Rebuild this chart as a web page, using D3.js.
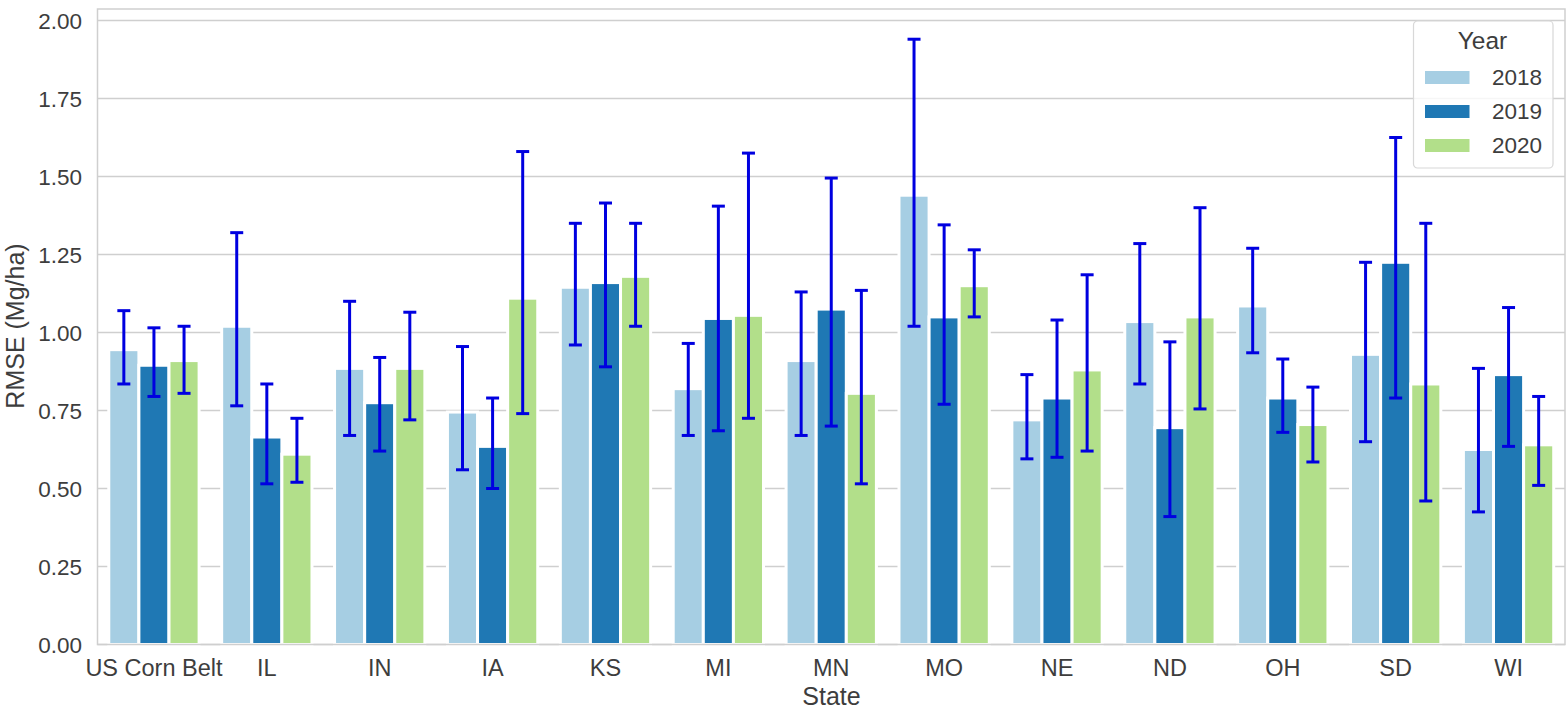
<!DOCTYPE html>
<html>
<head>
<meta charset="utf-8">
<script src="https://cdn.jsdelivr.net/npm/d3@7"></script>
<style>
html, body { margin: 0; padding: 0; background: #fff; }
svg { display: block; }
text { font-family: "Liberation Sans", Arial, sans-serif; fill: #3d3d3d; }
</style>
</head>
<body>
<script>
var states = ["US Corn Belt", "IL", "IN", "IA", "KS", "MI", "MN", "MO", "NE", "ND", "OH", "SD", "WI"];
var years = ["2018", "2019", "2020"];
var colors = ["#a6cee3", "#1f78b4", "#b2df8a"];
var yTicks = [0, 0.25, 0.5, 0.75, 1, 1.25, 1.5, 1.75, 2];

var rmse2018 = [0.945, 1.02, 0.885, 0.745, 1.145, 0.82, 0.91, 1.44, 0.72, 1.035, 1.085, 0.93, 0.625];
var rmse2019 = [0.895, 0.665, 0.775, 0.635, 1.16, 1.045, 1.075, 1.05, 0.79, 0.695, 0.79, 1.225, 0.865];
var rmse2020 = [0.91, 0.61, 0.885, 1.11, 1.18, 1.055, 0.805, 1.15, 0.88, 1.05, 0.705, 0.835, 0.64];

var low2018 = [0.835, 0.765, 0.67, 0.56, 0.96, 0.67, 0.67, 1.02, 0.595, 0.835, 0.935, 0.65, 0.425];
var high2018 = [1.07, 1.32, 1.10, 0.955, 1.35, 0.965, 1.13, 1.94, 0.865, 1.285, 1.27, 1.225, 0.885];
var low2019 = [0.795, 0.515, 0.62, 0.50, 0.89, 0.685, 0.70, 0.77, 0.60, 0.41, 0.68, 0.79, 0.635];
var high2019 = [1.015, 0.835, 0.92, 0.79, 1.415, 1.405, 1.495, 1.345, 1.04, 0.97, 0.915, 1.625, 1.08];
var low2020 = [0.805, 0.52, 0.72, 0.74, 1.02, 0.725, 0.515, 1.05, 0.62, 0.755, 0.585, 0.46, 0.51];
var high2020 = [1.02, 0.725, 1.065, 1.58, 1.35, 1.575, 1.135, 1.265, 1.185, 1.40, 0.825, 1.35, 0.795];

var series = [
    { year: "2018", values: rmse2018, low: low2018, high: high2018 },
    { year: "2019", values: rmse2019, low: low2019, high: high2019 },
    { year: "2020", values: rmse2020, low: low2020, high: high2020 }
];

var width = 1568,
    height = 714,
    left = 97.5,
    right = 1565,
    top_ = 9,
    bottom = 644.5;

var x = d3.scaleBand()
    .domain(states)
    .range([left, right])
    .paddingInner(0)
    .paddingOuter(0);

// seaborn keeps 80% of the band for the group
var groupW = x.bandwidth() * 0.8;
var x1 = d3.scaleBand()
    .domain(years)
    .range([0, groupW]);

var y = d3.scaleLinear()
    .domain([0, 2])
    .range([bottom, 20.5]);

var color = d3.scaleOrdinal().domain(years).range(colors);

var svg = d3.select("body").append("svg")
    .attr("width", width)
    .attr("height", height);

// grid lines
svg.append("g")
    .selectAll("line")
    .data(yTicks)
    .enter().append("line")
    .attr("x1", left)
    .attr("x2", right)
    .attr("y1", function (d) { return y(d); })
    .attr("y2", function (d) { return y(d); })
    .attr("stroke", "#cfcfcf")
    .attr("stroke-width", 1.5);

// bars
var groups = svg.selectAll(".series")
    .data(series)
    .enter().append("g")
    .attr("class", "series");

groups.selectAll("rect")
    .data(function (s) {
        return s.values.map(function (v, i) { return { year: s.year, state: states[i], value: v }; });
    })
    .enter().append("rect")
    .attr("x", function (d) { return x(d.state) + x.bandwidth() * 0.1 + x1(d.year); })
    .attr("y", function (d) { return y(d.value); })
    .attr("width", x1.bandwidth())
    .attr("height", function (d) { return y(0) - y(d.value); })
    .attr("fill", function (d) { return color(d.year); })
    .attr("stroke", "#fff")
    .attr("stroke-width", 3);

// error bars
var errs = groups.selectAll(".err")
    .data(function (s) {
        return s.values.map(function (v, i) {
            return { year: s.year, state: states[i], low: s.low[i], high: s.high[i] };
        });
    })
    .enter().append("g")
    .attr("class", "err")
    .attr("transform", function (d) {
        return "translate(" + (x(d.state) + x.bandwidth() * 0.1 + x1(d.year) + x1.bandwidth() / 2) + ",0)";
    })
    .attr("stroke", "#0000e0")
    .attr("fill", "none");

errs.append("line")
    .attr("y1", function (d) { return y(d.low); })
    .attr("y2", function (d) { return y(d.high); })
    .attr("stroke-width", 3);

errs.selectAll(".cap")
    .data(function (d) { return [d.low, d.high]; })
    .enter().append("line")
    .attr("class", "cap")
    .attr("x1", -6.5)
    .attr("x2", 6.5)
    .attr("y1", function (d) { return y(d); })
    .attr("y2", function (d) { return y(d); })
    .attr("stroke-width", 3);

// frame
svg.append("rect")
    .attr("x", left)
    .attr("y", top_)
    .attr("width", right - left)
    .attr("height", bottom - top_)
    .attr("fill", "none")
    .attr("stroke", "#cfcfcf")
    .attr("stroke-width", 1.5);

// axes
var yAxis = d3.axisLeft(y).tickValues(yTicks).tickFormat(d3.format(".2f")).tickSize(0).tickPadding(15.5);
var xAxis = d3.axisBottom(x).tickSize(0).tickPadding(15);

svg.append("g")
    .attr("transform", "translate(" + left + ",0)")
    .call(yAxis)
    .call(function (g) { g.select(".domain").remove(); })
    .selectAll("text")
    .style("font-size", "22.5px")
    .attr("dy", "0.36em");

svg.append("g")
    .attr("transform", "translate(0," + bottom + ")")
    .call(xAxis)
    .call(function (g) { g.select(".domain").remove(); })
    .selectAll("text")
    .style("font-size", "23.5px");

svg.append("text")
    .attr("x", 831.5)
    .attr("y", 705)
    .attr("text-anchor", "middle")
    .style("font-size", "25px")
    .text("State");

svg.append("text")
    .attr("transform", "translate(24,326) rotate(-90)")
    .attr("text-anchor", "middle")
    .style("font-size", "25px")
    .text("RMSE (Mg/ha)");

// legend
var legend = svg.append("g").attr("transform", "translate(1413.5,21)");

legend.append("rect")
    .attr("width", 139.5)
    .attr("height", 147)
    .attr("rx", 4)
    .attr("fill", "#fff")
    .attr("fill-opacity", 0.8)
    .attr("stroke", "#d8d8d8")
    .attr("stroke-width", 1.2);

legend.append("text")
    .attr("x", 69)
    .attr("y", 28)
    .attr("text-anchor", "middle")
    .style("font-size", "24.5px")
    .text("Year");

var legendY = d3.scalePoint().domain(years).range([56.5, 124.5]);

var item = legend.selectAll(".item")
    .data(years)
    .enter().append("g")
    .attr("class", "item")
    .attr("transform", function (d) { return "translate(0," + legendY(d) + ")"; });

item.append("rect")
    .attr("x", 11.5)
    .attr("y", -6.5)
    .attr("width", 44.5)
    .attr("height", 13)
    .attr("fill", function (d) { return color(d); });

item.append("text")
    .attr("x", 128.5)
    .attr("y", -1)
    .attr("dy", "0.36em")
    .attr("text-anchor", "end")
    .style("font-size", "22.5px")
    .text(function (d) { return d; });
</script>
</body>
</html>
